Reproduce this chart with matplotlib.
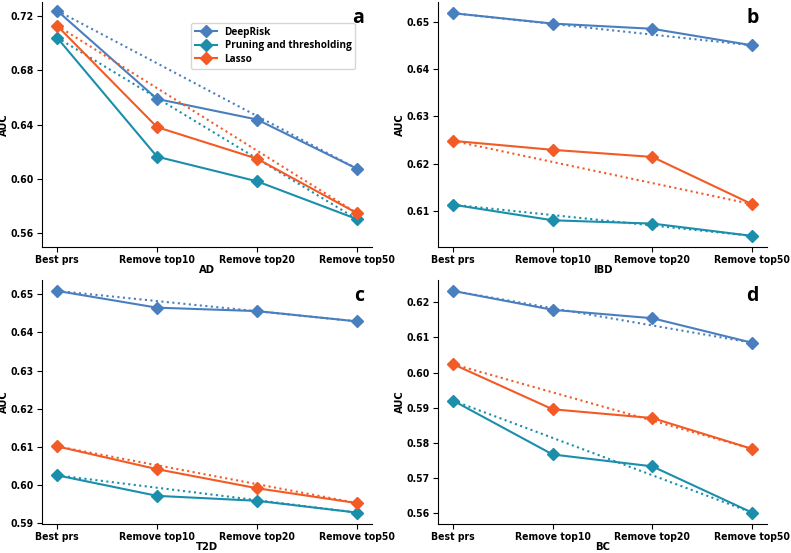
import numpy as np
import matplotlib
matplotlib.use('Agg')
import matplotlib.pyplot as plt
from matplotlib.ticker import MultipleLocator, FormatStrFormatter

plt.rcParams['font.family'] = ['DejaVu Sans']
plt.rcParams['font.weight'] = 'bold'
plt.rcParams['axes.labelweight'] = 'bold'
plt.rcParams['font.stretch'] = 'condensed'

# categories on the x axis
steps = ['Best prs', 'Remove top10', 'Remove top20', 'Remove top50']

# AUC values, one list per method and disease
ad_deeprisk = [0.7242, 0.6590, 0.6438, 0.6075]
ad_pt = [0.7043, 0.6164, 0.5982, 0.5703]
ad_lasso = [0.7131, 0.6382, 0.6149, 0.5747]

ibd_deeprisk = [0.6518, 0.6496, 0.6485, 0.6450]
ibd_pt = [0.6113, 0.6080, 0.6073, 0.6047]
ibd_lasso = [0.6248, 0.6229, 0.6214, 0.6114]

t2d_deeprisk = [0.6509, 0.6465, 0.6456, 0.6429]
t2d_pt = [0.6025, 0.5971, 0.5958, 0.5927]
t2d_lasso = [0.6101, 0.6041, 0.5991, 0.5952]

bc_deeprisk = [0.6233, 0.6179, 0.6155, 0.6085]
bc_pt = [0.5920, 0.5766, 0.5732, 0.5600]
bc_lasso = [0.6024, 0.5895, 0.5870, 0.5782]

panels = [
    ('AD', 'a', ad_deeprisk, ad_pt, ad_lasso, (0.5497, 0.7305), 0.04),
    ('IBD', 'b', ibd_deeprisk, ibd_pt, ibd_lasso, None, 0.01),
    ('T2D', 'c', t2d_deeprisk, t2d_pt, t2d_lasso, None, 0.01),
    ('BC', 'd', bc_deeprisk, bc_pt, bc_lasso, None, 0.01),
]

names = ['DeepRisk', 'Pruning and thresholding', 'Lasso']
colors = ['#4a7fbf', '#1a8eab', '#f25a26']

fig = plt.figure(figsize=(7.91, 5.53), dpi=100)
boxes = [
    [0.0531, 0.5533, 0.4172, 0.4430],
    [0.5537, 0.5533, 0.4160, 0.4430],
    [0.0531, 0.0530, 0.4172, 0.4410],
    [0.5537, 0.0530, 0.4160, 0.4410],
]

x = np.arange(len(steps))
for (disease, letter, dr, pt, la, ylim, step), box in zip(panels, boxes):
  ax = fig.add_axes(box)
  for vals, name, c in zip([dr, pt, la], names, colors):
    ax.plot(x, vals, color=c, lw=1.5, marker='D', ms=6, label=name)
    # dotted line joining first and last point
    ax.plot([x[0], x[-1]], [vals[0], vals[-1]], color=c, lw=1.5, ls=':')
  if ylim is not None:
    ax.set_ylim(*ylim)
  ax.yaxis.set_major_locator(MultipleLocator(step))
  ax.yaxis.set_major_formatter(FormatStrFormatter('%.2f'))
  ax.set_xticks(x)
  ax.set_xticklabels(steps)
  ax.tick_params(labelsize=7.5, pad=2.5)
  ax.set_xlabel(disease, fontsize=8, labelpad=0)
  ax.set_ylabel('AUC', fontsize=8)
  ax.yaxis.set_label_coords(-0.1, 0.5)
  ax.spines['top'].set_visible(False)
  ax.spines['right'].set_visible(False)
  ax.text(0.975, 0.975, letter, transform=ax.transAxes, ha='right', va='top',
          fontsize=14, fontweight='bold', family='Open Sans', fontstretch='normal')
  if letter == 'a':
    ax.legend(loc='upper left', bbox_to_anchor=(0.435, 0.935),
              prop={'family': 'Open Sans', 'weight': 'bold', 'size': 7.2,
                    'stretch': 'normal'},
              handlelength=2.2, borderpad=0.4, labelspacing=0.25)

fig.savefig('out.png', dpi=100)
